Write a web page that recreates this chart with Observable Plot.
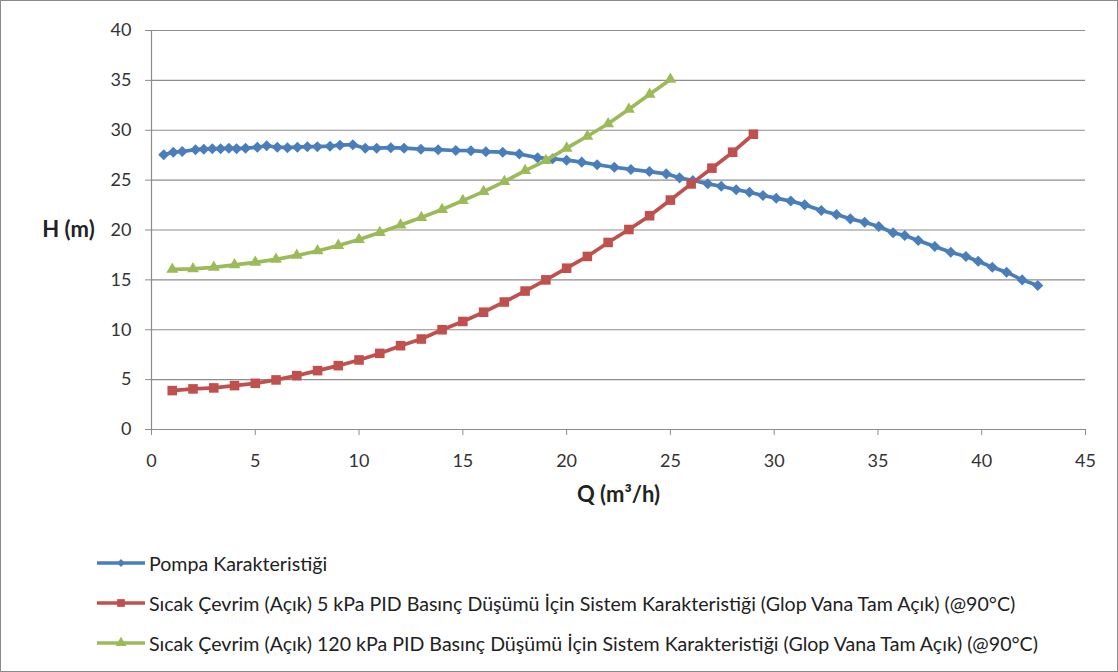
<!DOCTYPE html>
<html>
<head>
<meta charset="utf-8">
<script src="https://cdn.jsdelivr.net/npm/d3@7"></script>
<script src="https://cdn.jsdelivr.net/npm/@observablehq/plot@0.6"></script>
<style>
  html, body { margin: 0; padding: 0; background: #fff; }
  #wrap { position: relative; width: 1118px; height: 672px; overflow: hidden; font-family: Lato, "Open Sans", sans-serif; }
  #frame { position: absolute; left: 0; top: 0; width: 1118px; height: 672px; box-sizing: border-box; border: 1px solid #8a8a8a; pointer-events: none; }
  #chart { position: absolute; left: 0; top: 0; }
  #legend { position: absolute; left: 96px; top: 543px; }
  .row { height: 40px; display: flex; align-items: center; font-size: 19.6px; color: #222; }
  .row svg { margin-right: 3px; }
</style>
</head>
<body>
<div id="wrap">
  <div id="chart"></div>
  <div id="legend"></div>
  <div id="frame"></div>
</div>
<script>
// Series names
const seriesNames = [
  "Pompa Karakteristiği",
  "Sıcak Çevrim (Açık) 5 kPa PID Basınç Düşümü İçin Sistem Karakteristiği (Glop Vana Tam Açık) (@90°C)",
  "Sıcak Çevrim (Açık) 120 kPa PID Basınç Düşümü İçin Sistem Karakteristiği (Glop Vana Tam Açık) (@90°C)"
];
const seriesColors = ["#4a7ebb", "#c0504d", "#9bbb59"];
const seriesSymbols = ["diamond2", "square", "triangle"];

// Pump characteristic
const pumpQ = [0.59, 1.05, 1.48, 2.12, 2.52, 2.93, 3.33, 3.73, 4.1, 4.53, 5.1, 5.55, 6.06, 6.55, 7.03, 7.51, 7.99, 8.6, 9.08, 9.7,
  10.3, 10.85, 11.53, 12.17, 12.98, 13.81, 14.66, 15.39, 16.11, 16.92, 17.72, 18.6, 19.33, 20.0, 20.73, 21.47, 22.3, 23.1, 23.99, 24.8,
  25.44, 26.08, 26.8, 27.45, 28.17, 28.81, 29.46, 30.1, 30.8, 31.47, 32.27, 33.0, 33.67, 34.36, 35.04, 35.73, 36.29, 36.94, 37.74, 38.51,
  39.24, 39.83, 40.51, 41.2, 41.95, 42.7];
const pumpH = [27.55, 27.8, 27.87, 28.05, 28.1, 28.15, 28.15, 28.2, 28.15, 28.2, 28.3, 28.45, 28.3, 28.25, 28.3, 28.35, 28.35, 28.4, 28.5, 28.55,
  28.2, 28.2, 28.25, 28.2, 28.1, 28.05, 27.97, 27.95, 27.85, 27.8, 27.62, 27.25, 27.14, 27.0, 26.8, 26.54, 26.29, 26.07, 25.86, 25.63,
  25.23, 24.96, 24.63, 24.39, 24.03, 23.79, 23.46, 23.19, 22.9, 22.52, 21.95, 21.55, 21.12, 20.78, 20.35, 19.72, 19.45, 18.95, 18.35, 17.77,
  17.34, 16.87, 16.27, 15.77, 15.0, 14.43];

// System characteristic, 5 kPa
const sys5Q = [1, 2, 3, 4, 5, 6, 7, 8, 9, 10, 11, 12, 13, 14, 15, 16, 17, 18, 19, 20, 21, 22, 23, 24, 25, 26, 27, 28, 29];
const sys5H = [3.9, 4.07, 4.17, 4.4, 4.63, 4.97, 5.4, 5.9, 6.4, 6.97, 7.63, 8.4, 9.07, 10.0, 10.83, 11.76, 12.78, 13.88, 15.0, 16.17,
  17.35, 18.75, 20.05, 21.43, 23.0, 24.62, 26.2, 27.8, 29.6];

// System characteristic, 120 kPa
const sys120Q = [1, 2, 3, 4, 5, 6, 7, 8, 9, 10, 11, 12, 13, 14, 15, 16, 17, 18, 19, 20, 21, 22, 23, 24, 25];
const sys120H = [16.05, 16.1, 16.25, 16.5, 16.75, 17.05, 17.45, 17.9, 18.45, 19.05, 19.75, 20.5, 21.25, 22.05, 22.95, 23.85, 24.85, 25.95, 26.95, 28.2,
  29.4, 30.65, 32.1, 33.6, 35.1];

// Axis ticks
const xTicks = [0, 5, 10, 15, 20, 25, 30, 35, 40, 45];
const yTicks = [0, 5, 10, 15, 20, 25, 30, 35, 40];

const toRows = (qs, hs, s) => qs.map((q, i) => ({Q: q, H: hs[i], s}));
const series = [toRows(pumpQ, pumpH, 0), toRows(sys5Q, sys5H, 1), toRows(sys120Q, sys120H, 2)];

const marks = [
  Plot.ruleY(yTicks.filter(d => d > 0), {stroke: "#8c8c8c", strokeWidth: 1.2}),
  Plot.ruleX([0], {stroke: "#8c8c8c", strokeWidth: 1.2}),
  Plot.ruleY([0], {stroke: "#8c8c8c", strokeWidth: 1.2}),
  Plot.axisX({ticks: xTicks, tickSize: 6, tickPadding: 19, stroke: "#8c8c8c", fill: "#333", label: null, fontSize: 18}),
  Plot.axisY({ticks: yTicks, tickSize: 6, tickPadding: 14, stroke: "#8c8c8c", fill: "#333", label: null, fontSize: 18}),
  Plot.text(["H (m)"], {frameAnchor: "left", dx: -83, text: d => d, fontWeight: "bold", fontSize: 22, fill: "#222", textAnchor: "middle"}),
  Plot.text(["Q (m³/h)"], {frameAnchor: "bottom", dy: 72, text: d => d, fontWeight: "bold", fontSize: 22, fill: "#222", textAnchor: "middle"})
];
const rs = [5, 5.4, 4.4];
series.forEach((rows, i) => {
  marks.push(Plot.line(rows, {x: "Q", y: "H", stroke: seriesColors[i], strokeWidth: 3.7}));
  marks.push(Plot.dot(rows, {x: "Q", y: "H", symbol: () => seriesSymbols[i], fill: seriesColors[i], stroke: "none", r: rs[i]}));
});

const chart = Plot.plot({
  width: 1118,
  height: 520,
  marginLeft: 151,
  marginRight: 33,
  marginTop: 30,
  marginBottom: 91,
  style: {fontFamily: "Lato, 'Open Sans', sans-serif", background: "transparent"},
  x: {domain: [0, 45]},
  y: {domain: [0, 40]},
  marks
});
document.getElementById("chart").appendChild(chart);

// Legend
const legend = document.getElementById("legend");
const symPath = {
  diamond2: d3.symbol(d3.symbolDiamond2, 40)(),
  square: d3.symbol(d3.symbolSquare, 60)(),
  triangle: d3.symbol(d3.symbolTriangle, 50)()
};
seriesNames.forEach((name, i) => {
  const row = document.createElement("div");
  row.className = "row";
  row.innerHTML = `<svg width="50" height="16"><line x1="1" x2="49" y1="8" y2="8" stroke="${seriesColors[i]}" stroke-width="3.5"/>` +
    `<path d="${symPath[seriesSymbols[i]]}" transform="translate(25,8)" fill="${seriesColors[i]}"/></svg><span>${name}</span>`;
  legend.appendChild(row);
});
</script>
</body>
</html>
